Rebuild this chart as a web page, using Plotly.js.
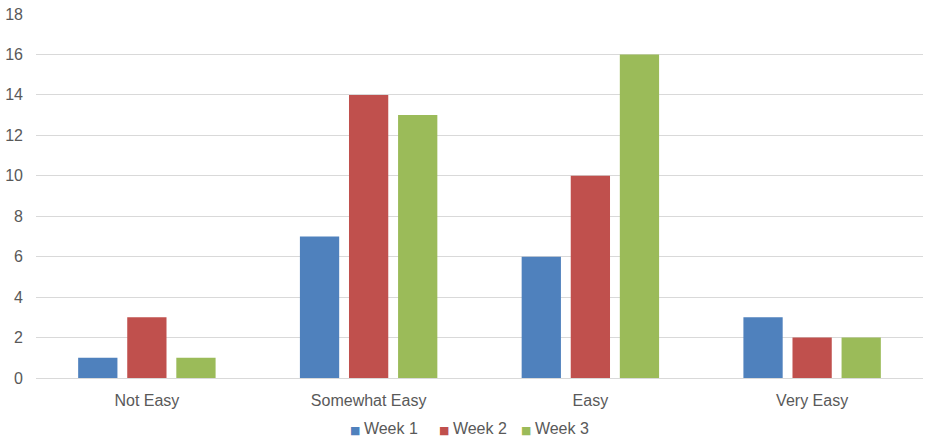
<!DOCTYPE html>
<html>
<head>
<meta charset="utf-8">
<script src="https://cdn.plot.ly/plotly-3.0.1.min.js"></script>
<style>
  html, body { margin: 0; padding: 0; background: #ffffff; }
  #chart { width: 926px; height: 442px; }
</style>
</head>
<body>
<div id="chart"></div>
<script>
// Survey answers per ease rating, one series per week
const categories = ["Not Easy", "Somewhat Easy", "Easy", "Very Easy"];
const week1 = [1, 7, 6, 3];
const week2 = [3, 14, 10, 2];
const week3 = [1, 13, 16, 2];
const seriesNames = ["Week 1", "Week 2", "Week 3"];
const yTicks = [0, 2, 4, 6, 8, 10, 12, 14, 16, 18];

const colors = ["#4F81BD", "#C0504D", "#9BBB59"];
const seriesValues = [week1, week2, week3];

const traces = seriesValues.map((vals, i) => ({
  type: "bar",
  name: seriesNames[i],
  x: categories,
  y: vals,
  marker: { color: colors[i], line: { width: 0 } },
  hoverinfo: "x+y+name"
}));

const fontFamily = "Liberation Sans, Arial, sans-serif";
const textColor = "#595959";

// Compact legend row under the axis: small square key followed by the series name
const legendX = [0.3517, 0.4521, 0.5445];
const legendItems = seriesNames.map((name, i) => ({
  xref: "paper",
  yref: "paper",
  x: legendX[i],
  y: -0.140,
  xanchor: "left",
  yanchor: "middle",
  showarrow: false,
  text: "<span style=\"color:" + colors[i] + ";font-family:DejaVu Sans;font-size:11px\">■ </span>" + name,
  font: { family: fontFamily, size: 16, color: textColor }
}));

const layout = {
  width: 926,
  height: 442,
  paper_bgcolor: "#ffffff",
  plot_bgcolor: "#ffffff",
  margin: { l: 36, r: 3, t: 14, b: 64, pad: 0, autoexpand: false },
  font: { family: fontFamily, size: 16, color: textColor },
  barmode: "group",
  bargap: 0.336,
  bargroupgap: 0.2,
  showlegend: false,
  annotations: legendItems,
  xaxis: {
    type: "category",
    showgrid: false,
    showline: true,
    linecolor: "#D9D9D9",
    linewidth: 1,
    ticks: "",
    tickfont: { family: fontFamily, size: 16, color: textColor },
    ticklabelstandoff: 8,
    fixedrange: true
  },
  yaxis: {
    range: [0, 18],
    tickvals: yTicks,
    ticktext: yTicks.map(String),
    showgrid: true,
    gridcolor: "#D9D9D9",
    gridwidth: 1,
    zeroline: false,
    showline: false,
    ticks: "",
    tickfont: { family: fontFamily, size: 16, color: textColor },
    ticklabelstandoff: 12,
    fixedrange: true
  }
};

Plotly.newPlot("chart", traces, layout, { displayModeBar: false, staticPlot: true });
</script>
</body>
</html>
